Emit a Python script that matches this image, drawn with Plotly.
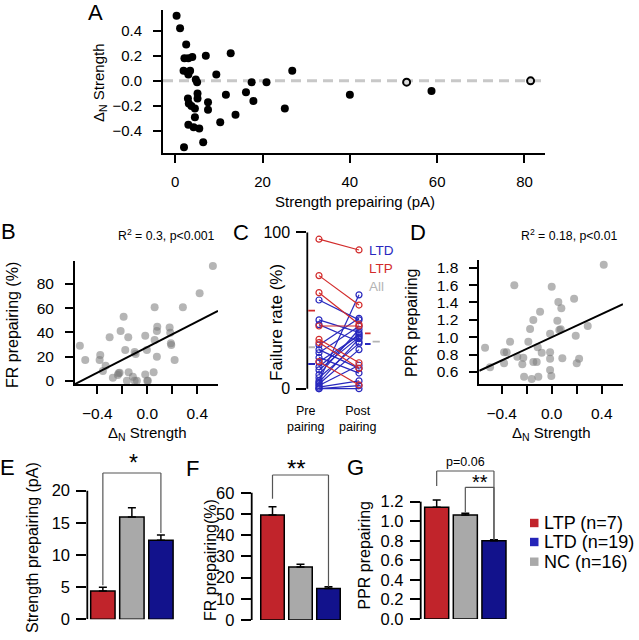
import plotly.graph_objects as go

W, H = 639, 640
FONT = "Liberation Sans, Arial, Helvetica, sans-serif"

# ---------------- data ----------------
# Panel A
a_strength = [0.3, 1.1, 2.5, 2.1, 3.0, 3.9, 7.0, 12.7, 1.9, 2.8, 3.4, 3.0, 9.4, 26.8,
              4.7, 5.0, 17.5, 20.9, 58.7, 40.0, 5.1, 11.6, 16.2, 17.9, 5.1, 2.9, 3.1, 3.7,
              4.5, 7.5, 7.5, 25.1, 13.8, 4.5, 10.3, 3.0, 4.2, 5.5, 6.4, 2.0]
a_delta = [0.52, 0.42, 0.29, 0.18, 0.18, 0.19, 0.20, 0.22, 0.08, 0.07, 0.08, 0.05, 0.05, 0.08,
           0.01, -0.01, -0.01, -0.01, -0.08, -0.11, -0.10, -0.11, -0.09, -0.16, -0.14, -0.14, -0.18, -0.20,
           -0.22, -0.17, -0.23, -0.22, -0.27, -0.29, -0.33, -0.35, -0.37, -0.38, -0.49, -0.53]
a_open_strength = [53.0, 81.4]
a_open_delta = [-0.01, 0.0]

# Panel B
b_delta = [-0.539, -0.496, -0.376, -0.381, -0.333, -0.355, -0.301, -0.275, -0.235, -0.229, -0.221,
           -0.189, -0.213, -0.176, -0.152, -0.149, -0.163, -0.115, -0.101, -0.083, -0.101, -0.093,
           -0.016, -0.003, -0.016, 0.0, 0.005, 0.051, 0.059, 0.059, 0.077, 0.080, 0.077, 0.179,
           0.184, 0.189, 0.192, 0.219, 0.285, 0.419, 0.525]
b_fr = [29.0, 17.1, 21.2, 17.1, 12.4, 8.0, 35.9, 2.5, 4.7, 6.1, 6.6, 53.0, 41.1, 25.4, 35.9, 6.9,
        0.0, 3.3, 0.0, 0.0, 23.7, 22.1, 37.2, 25.4, 5.2, 0.0, 0.0, 6.9, 60.7, 33.7, 41.1, 44.7,
        19.9, 44.1, 39.7, 30.9, 29.5, 17.1, 60.7, 72.3, 94.9]
b_fit_intercept, b_fit_slope = 27.8, 52.9
b_stats = "R<sup>2</sup> = 0.3, p<0.001"

# Panel C
c_stages = ["Pre<br>pairing", "Post<br>pairing"]
c_ltp_pre = [95.6, 72.3, 61.4, 40.1, 31.6, 29.5, 17.3]
c_ltp_post = [88.7, 53.5, 41.2, 40.1, 16.6, 13.0, 2.4]
c_ltd_pre = [56.7, 44, 41, 28, 25, 23, 20, 17, 14, 12, 9, 7, 5, 4, 3, 2, 1, 0, 0]
c_ltd_post = [44, 36, 30, 45, 13, 40, 10, 34, 35, 33, 38, 29, 60, 32, 25, 15, 5, 2, 0]
c_mean_groups = ["LTP", "LTD", "All"]
c_mean_pre = [49.9, 15.8, 26.5]
c_mean_post = [35.4, 28.6, 30.1]

# Panel D
d_delta = [-0.533, -0.493, -0.381, -0.360, -0.381, -0.333, -0.299, -0.275, -0.235, -0.227, -0.221,
           -0.187, -0.173, -0.160, -0.147, -0.147, -0.120, -0.112, -0.107, -0.093, -0.080, -0.013,
           -0.013, -0.013, -0.003, -0.013, 0.000, 0.045, 0.053, 0.061, 0.072, 0.077, 0.085, 0.179,
           0.192, 0.200, 0.219, 0.288, 0.416]
d_ppr = [0.88, 0.654, 0.826, 0.826, 0.70, 0.949, 1.597, 0.776, 0.688, 0.765, 0.546, 0.949, 1.095,
         0.519, 1.198, 0.715, 0.715, 0.884, 0.546, 1.294, 0.822, 0.826, 0.753, 0.623, 0.554, 1.041,
         1.582, 1.191, 1.406, 1.083, 1.091, 1.333, 0.757, 1.444, 1.018, 0.70, 0.753, 1.129, 1.835]
d_fit_intercept, d_fit_slope = 1.0, 0.667
d_stats = "R<sup>2</sup> = 0.18, p<0.01"

# Panels E-G (bar order: LTP, NC, LTD)
bar_groups = ["LTP", "NC", "LTD"]
e_strength = [4.4, 15.9, 12.3]
e_err = [0.6, 1.46, 0.8]
f_fr = [49.5, 25.0, 14.8]
f_err = [3.9, 1.3, 0.9]
g_ppr = [1.143, 1.064, 0.80]
g_err = [0.074, 0.017, 0.01]

legend_labels = ["LTP (n=7)", "LTD (n=19)", "NC (n=16)"]

# ---------------- style ----------------
RED = "#C1242B"
NAVY = "#12128C"
GRAY = "#A9A9A9"
LRED = "#D22B2B"
LBLUE = "#2828BE"
LGRAY = "#B4B4B4"
bar_colors = {"LTP": RED, "NC": GRAY, "LTD": NAVY}
legend_colors = [RED, "#2424B8", GRAY]


def X(p):
    return p / W


def Y(p):
    return 1 - p / H


# pixel boxes: (left, right), (top, bottom), xrange, yrange, tick font size
P = {
    "A": dict(xp=(163, 545), yp=(10, 153), xr=[-2.81, 84.7], yr=[-0.576, 0.566], fs=15),
    "B": dict(xp=(75, 218), yp=(260.7, 384), xr=[-0.578, 0.566], yr=[-2.73, 99.3], fs=15.5),
    "C": dict(xp=(307.3, 382), yp=(232.3, 393.4), xr=[-0.2925, 1.575], yr=[-3, 100], fs=16),
    "D": dict(xp=(479.3, 623), yp=(260, 384), xr=[-0.579, 0.570], yr=[0.462, 1.889], fs=15.5),
    "E": dict(xp=(87.3, 176), yp=(477.8, 619.3), xr=[-0.536, 2.52], yr=[0, 22], fs=16.5),
    "F": dict(xp=(251.7, 345), yp=(480, 620), xr=[-0.743, 2.59], yr=[0, 66], fs=16.5),
    "G": dict(xp=(420.7, 510), yp=(491.9, 619), xr=[-0.558, 2.56], yr=[0, 1.3], fs=16.5),
}
IDX = {"A": "", "B": "2", "C": "3", "D": "4", "E": "5", "F": "6", "G": "7"}


def ypx(panel, v):
    p = P[panel]
    top, bot = p["yp"]
    lo, hi = p["yr"]
    return bot - (v - lo) / (hi - lo) * (bot - top)


fig = go.Figure()
layout = dict(width=W, height=H, margin=dict(l=0, r=0, t=0, b=0),
              paper_bgcolor="white", plot_bgcolor="white", template="none",
              showlegend=False, font=dict(family=FONT, color="black"))


def axis_common(fs, tl, so, line=True):
    return dict(showgrid=False, zeroline=False, showline=line, linecolor="black", linewidth=1.8,
                ticks="outside", ticklen=tl, tickwidth=1.6, tickcolor="black",
                tickfont=dict(size=fs, family=FONT, color="black"), ticklabelstandoff=so,
                fixedrange=True)


for name, p in P.items():
    i = IDX[name]
    scatter_panel = name in ("A", "B", "D")
    xa = axis_common(p["fs"], 8, 6, line=scatter_panel)
    ya = axis_common(p["fs"], 8 if scatter_panel else 10,
                     8 if scatter_panel else 3, line=scatter_panel)
    xa.update(domain=[X(p["xp"][0]), X(p["xp"][1])], range=p["xr"], anchor="y" + i)
    ya.update(domain=[Y(p["yp"][1]), Y(p["yp"][0])], range=p["yr"], anchor="x" + i)
    if not scatter_panel:
        xa.update(visible=False)
    layout["xaxis" + i] = xa
    layout["yaxis" + i] = ya

MINUS = "\u2212"
layout["xaxis"].update(tickvals=[0, 20, 40, 60, 80])
layout["yaxis"].update(tickvals=[-0.4, -0.2, 0, 0.2, 0.4],
                       ticktext=[MINUS + "0.4", MINUS + "0.2", "0.0", "0.2", "0.4"])
for i in ("2", "4"):
    layout["xaxis" + i].update(tickvals=[-0.4, 0, 0.4],
                               ticktext=[MINUS + "0.4", "0.0", "0.4"],
                               minor=dict(tickmode="array", tickvals=[-0.2, 0.2], ticks="outside",
                                          ticklen=8, tickwidth=1.6, tickcolor="black", showgrid=False))
layout["yaxis2"].update(tickvals=[0, 20, 40, 60, 80])
layout["yaxis4"].update(tickvals=[0.6, 0.8, 1.0, 1.2, 1.4, 1.6, 1.8],
                        ticktext=["0.6", "0.8", "1.0", "1.2", "1.4", "1.6", "1.8"])
layout["yaxis3"].update(tickvals=[0, 100])
layout["yaxis5"].update(tickvals=[0, 5, 10, 15, 20])
layout["yaxis6"].update(tickvals=[0, 10, 20, 30, 40, 50, 60])
layout["yaxis7"].update(tickvals=[0, 0.2, 0.4, 0.6, 0.8, 1.0, 1.2],
                        ticktext=["0.0", "0.2", "0.4", "0.6", "0.8", "1.0", "1.2"])

shapes = []
annotations = []

# ---- Panel A ----
shapes.append(dict(type="line", xref="x", yref="y", x0=P["A"]["xr"][0], x1=P["A"]["xr"][1],
                   y0=0, y1=0, line=dict(color="#C8C8C8", width=3, dash="10px,6px"), layer="below"))
fig.add_trace(go.Scatter(x=a_strength, y=a_delta, mode="markers", xaxis="x", yaxis="y",
                         marker=dict(color="black", size=8), cliponaxis=False))
fig.add_trace(go.Scatter(x=a_open_strength, y=a_open_delta, mode="markers", xaxis="x", yaxis="y",
                         marker=dict(color="#DDDDDD", size=7, line=dict(color="black", width=2)),
                         cliponaxis=False))

# ---- Panels B, D (scatter + regression) ----
for name, xs, ys, b0, b1 in (("B", b_delta, b_fr, b_fit_intercept, b_fit_slope),
                             ("D", d_delta, d_ppr, d_fit_intercept, d_fit_slope)):
    i = IDX[name]
    fig.add_trace(go.Scatter(x=xs, y=ys, mode="markers", xaxis="x" + i, yaxis="y" + i,
                             marker=dict(color="rgba(120,120,120,0.55)", size=8), cliponaxis=False))
    lo, hi = P[name]["xr"]
    fig.add_trace(go.Scatter(x=[lo, hi], y=[b0 + b1 * lo, b0 + b1 * hi], mode="lines",
                             xaxis="x" + i, yaxis="y" + i, line=dict(color="black", width=2)))

# ---- Panel C ----
def pairs(pre, post):
    xs, ys = [], []
    for a, b in zip(pre, post):
        xs += [0, 1, None]
        ys += [a, b, None]
    return xs, ys


for pre, post, col in ((c_ltd_pre, c_ltd_post, LBLUE), (c_ltp_pre, c_ltp_post, LRED)):
    xs, ys = pairs(pre, post)
    fig.add_trace(go.Scatter(x=xs, y=ys, mode="lines+markers", xaxis="x3", yaxis="y3",
                             line=dict(color=col, width=1.2),
                             marker=dict(symbol="circle-open", size=6, color=col,
                                         line=dict(width=1.2, color=col)),
                             cliponaxis=False))
shapes.append(dict(type="line", xref="paper", yref="y3", x0=X(P["C"]["xp"][0]), x1=X(P["C"]["xp"][0]),
                   y0=0, y1=100, line=dict(color="black", width=1.8)))
mean_cols = [LRED, LBLUE, LGRAY]
for k, g in enumerate(c_mean_groups):
    shapes.append(dict(type="line", xref="x3", yref="y3", x0=-0.27, x1=-0.1,
                       y0=c_mean_pre[k], y1=c_mean_pre[k], line=dict(color=mean_cols[k], width=1.8)))
    x0, x1 = (1.34, 1.52) if g == "All" else (1.15, 1.29)
    shapes.append(dict(type="line", xref="x3", yref="y3", x0=x0, x1=x1,
                       y0=c_mean_post[k], y1=c_mean_post[k], line=dict(color=mean_cols[k], width=1.8)))
for txt, col, yy in (("LTD", LBLUE, 250), ("LTP", LRED, 268), ("All", LGRAY, 286)):
    annotations.append(dict(text=txt, x=X(367), y=Y(yy), xref="paper", yref="paper",
                            xanchor="left", yanchor="middle", showarrow=False,
                            font=dict(size=13.5, color=col)))
for k, (txt, xx) in enumerate(zip(c_stages, (306, 358))):
    annotations.append(dict(text=txt, x=X(xx), y=Y(419), xref="paper", yref="paper",
                            xanchor="center", yanchor="middle", showarrow=False,
                            font=dict(size=12.5, color="black")))

# ---- Bars E, F, G ----
for name, vals, errs, top in (("E", e_strength, e_err, 20), ("F", f_fr, f_err, 60),
                              ("G", g_ppr, g_err, 1.2)):
    i = IDX[name]
    fig.add_trace(go.Bar(x=list(range(len(bar_groups))), y=vals, width=0.84,
                         hovertext=bar_groups, xaxis="x" + i, yaxis="y" + i,
                         marker=dict(color=[bar_colors[g] for g in bar_groups],
                                     line=dict(color="black", width=1.5)),
                         error_y=dict(type="data", array=errs, arrayminus=[0] * len(errs),
                                      symmetric=False, color="black", thickness=1.5, width=4)))
    shapes.append(dict(type="line", xref="paper", yref="y" + i, x0=X(P[name]["xp"][0]),
                       x1=X(P[name]["xp"][0]), y0=0, y1=top, line=dict(color="black", width=1.8)))


def bracket(name, xa, xb, y_px, ya_px, yb_px):
    i = IDX[name]
    st = dict(color="#555555", width=1.2)
    shapes.append(dict(type="line", xref="x" + i, yref="paper", x0=xa, x1=xb, y0=Y(y_px), y1=Y(y_px), line=st))
    shapes.append(dict(type="line", xref="x" + i, yref="paper", x0=xa, x1=xa, y0=Y(y_px), y1=Y(ya_px), line=st))
    shapes.append(dict(type="line", xref="x" + i, yref="paper", x0=xb, x1=xb, y0=Y(y_px), y1=Y(yb_px), line=st))


def errtop(name, vals, errs, k, gap):
    return ypx(name, vals[k] + errs[k]) - gap


bracket("E", 0, 2, 473, errtop("E", e_strength, e_err, 0, 2), errtop("E", e_strength, e_err, 2, 2))
bracket("F", 0, 2, 475, errtop("F", f_fr, f_err, 0, 8), errtop("F", f_fr, f_err, 2, 0))
bracket("G", 0, 2, 471, 486, errtop("G", g_ppr, g_err, 2, 0))
bracket("G", 1, 2, 487.3, errtop("G", g_ppr, g_err, 1, 1), errtop("G", g_ppr, g_err, 2, 0))

annotations.append(dict(text="*", x=X(133), y=Y(463), xref="paper", yref="paper", showarrow=False,
                        xanchor="center", yanchor="middle", font=dict(size=23, color="black")))
annotations.append(dict(text="**", x=X(296), y=Y(468), xref="paper", yref="paper", showarrow=False,
                        xanchor="center", yanchor="middle", font=dict(size=24, color="black")))
annotations.append(dict(text="**", x=X(480), y=Y(481.7), xref="paper", yref="paper", showarrow=False,
                        xanchor="center", yanchor="middle", font=dict(size=20, color="black")))
annotations.append(dict(text="p=0.06", x=X(465), y=Y(461.7), xref="paper", yref="paper", showarrow=False,
                        xanchor="center", yanchor="middle", font=dict(size=12.5, color="black")))

# legend (G)
for k, (lab, col, yy) in enumerate(zip(legend_labels, legend_colors, (523, 542, 561.7))):
    shapes.append(dict(type="rect", xref="paper", yref="paper", x0=X(530), x1=X(538.5),
                       y0=Y(yy + 4.2), y1=Y(yy - 4.2), fillcolor=col, line=dict(width=0)))
    annotations.append(dict(text=lab, x=X(542), y=Y(yy), xref="paper", yref="paper", showarrow=False,
                            xanchor="left", yanchor="middle", font=dict(size=18, color="black")))

# ---- titles, letters, stats ----
def ann(text, x, y, size, angle=0, anchor="center", color="black"):
    annotations.append(dict(text=text, x=X(x), y=Y(y), xref="paper", yref="paper", showarrow=False,
                            xanchor=anchor, yanchor="middle", textangle=angle,
                            font=dict(size=size, color=color)))


DN = "\u0394<sub>N</sub> Strength"
ann("Strength prepairing (pA)", 355, 201, 15)
ann(DN, 99, 82, 15, -90)
ann("FR prepairing (%)", 12, 325, 16, -90)
ann(DN, 147, 433, 15)
ann("Failure rate (%)", 276, 323, 17, -90)
ann("PPR prepairing", 411, 323, 16, -90)
ann(DN, 551, 433, 15)
ann("Strength prepairing (pA)", 32, 548, 16, -90)
ann("FR prepairing(%)", 210, 560, 16, -90)
ann("PPR prepairing", 363.5, 555, 16, -90)
ann(b_stats, 217, 235, 12.3, anchor="right")
ann(d_stats, 620, 235, 12.3, anchor="right")
for letter, x, y in (("A", 95.5, 13), ("B", 8, 231), ("C", 241, 232), ("D", 418, 232),
                     ("E", 7, 467), ("F", 192, 468), ("G", 355, 467)):
    ann(letter, x, y, 22)

layout["shapes"] = shapes
layout["annotations"] = annotations
fig.update_layout(**layout)
fig.write_html("out.html", config={"displayModeBar": False},
               post_script="document.body.style.margin='0px';")
